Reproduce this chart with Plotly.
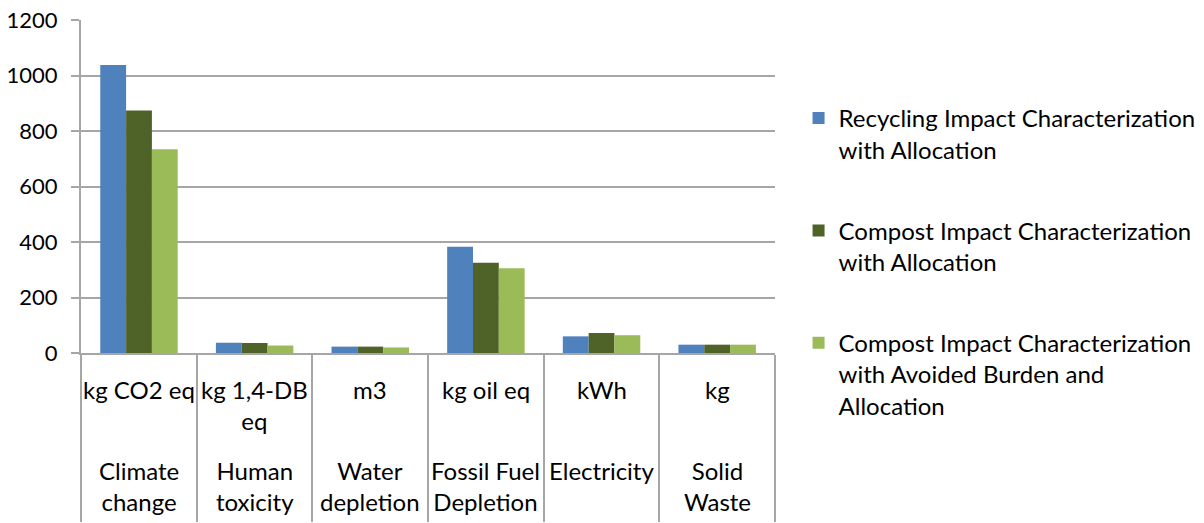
import plotly.graph_objects as go

# ---- data ----
impact_categories = ["Climate<br>change", "Human<br>toxicity", "Water<br>depletion",
                     "Fossil Fuel<br>Depletion", "Electricity", "Solid<br>Waste"]
units = ["kg CO2 eq", "kg 1,4-DB<br>eq", "m3", "kg oil eq", "kWh", "kg"]

recycling_alloc = [1038, 37, 23, 383, 60, 30]
compost_alloc = [874, 36, 23, 325, 72, 30]
compost_avoided = [734, 27, 20, 305, 64, 30]

series_names = [
    "Recycling Impact Characterization<br>with Allocation",
    "Compost Impact Characterization<br>with Allocation",
    "Compost Impact Characterization<br>with Avoided Burden and<br>Allocation",
]
colors = ["#4F81BD", "#4F6228", "#9BBB59"]

FONT = "Lato"
GRID = "#A6A6A6"

fig = go.Figure()

# ---- bars ----
for name, vals, col in zip(series_names, [recycling_alloc, compost_alloc, compost_avoided], colors):
    fig.add_trace(
        go.Bar(
            x=impact_categories,
            y=vals,
            name=name,
            marker=dict(color=col, line=dict(width=0)),
            legendgroup=name,
        )
    )

# ---- two-row category labels under the axis ----
for cat, unit in zip(impact_categories, units):
    fig.add_annotation(x=cat, y=0, xref="x", yref="paper", text=unit,
                       showarrow=False, yanchor="top", yshift=-20,
                       font=dict(size=24))
    fig.add_annotation(x=cat, y=0, xref="x", yref="paper", text=cat,
                       showarrow=False, yanchor="top", yshift=-101,
                       font=dict(size=24))

# page body adds an 8 px margin, so the figure is 8 px smaller
fig.update_layout(
    width=1196,
    height=515,
    barmode="group",
    bargap=0.33,
    bargroupgap=0,
    plot_bgcolor="white",
    paper_bgcolor="white",
    font=dict(family=FONT, size=22, color="black"),
    margin=dict(l=73, r=429, t=12, b=170, autoexpand=False),
    legend=dict(
        x=0.661,
        xref="container",
        y=0.772,
        xanchor="left",
        yanchor="top",
        valign="top",
        font=dict(size=24),
        tracegroupgap=47,
        itemwidth=30,
        maxheight=480,
    ),
)

fig.update_yaxes(
    range=[0, 1200],
    tickvals=[0, 200, 400, 600, 800, 1000, 1200],
    showgrid=True,
    gridcolor=GRID,
    gridwidth=2,
    showline=True,
    linecolor=GRID,
    linewidth=2,
    ticks="outside",
    ticklen=8,
    tickcolor=GRID,
    tickwidth=2,
    ticklabelstandoff=9,
    ticklabeloverflow="allow",
    tickfont=dict(size=22),
    zeroline=False,
    automargin=False,
)

fig.update_xaxes(
    type="category",
    showline=True,
    linecolor=GRID,
    linewidth=2,
    showticklabels=False,
    ticks="outside",
    tickson="boundaries",
    ticklen=167,
    tickcolor=GRID,
    tickwidth=2,
    automargin=False,
)

fig.write_html("out.html")
